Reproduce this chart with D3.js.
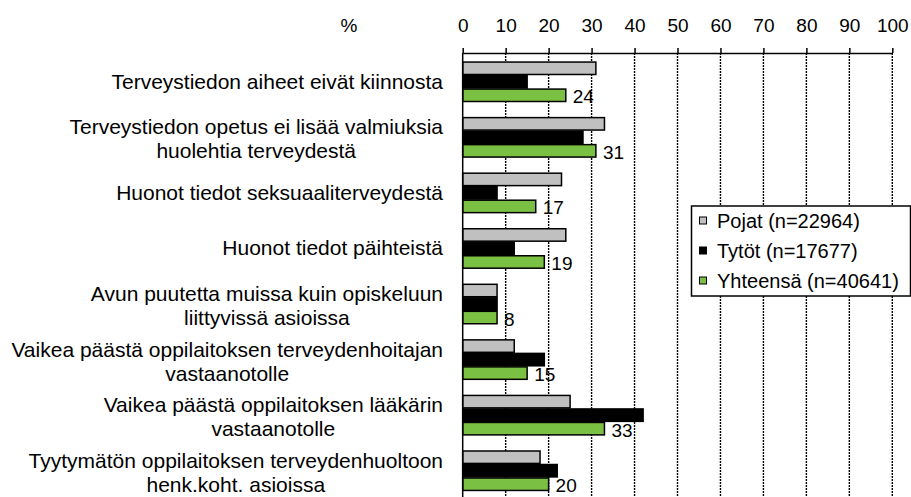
<!DOCTYPE html>
<html>
<head>
<meta charset="utf-8">
<style> body { margin: 0; background: #fff; } text { font-family: "Liberation Sans", Arial, sans-serif; } </style>
<script src="https://d3js.org/d3.v7.min.js"></script>
</head>
<body>
<svg id="chart" width="911" height="497"></svg>
<script>
    // categories, top to bottom ("\n" = line break in the label)
    var categories = [
        "Terveystiedon aiheet eivät kiinnosta",
        "Terveystiedon opetus ei lisää valmiuksia\nhuolehtia terveydestä",
        "Huonot tiedot seksuaaliterveydestä",
        "Huonot tiedot päihteistä",
        "Avun puutetta muissa kuin opiskeluun\nliittyvissä asioissa",
        "Vaikea päästä oppilaitoksen terveydenhoitajan\nvastaanotolle",
        "Vaikea päästä oppilaitoksen lääkärin\nvastaanotolle",
        "Tyytymätön oppilaitoksen terveydenhuoltoon\nhenk.koht. asioissa"
    ]
    var pojat    = [31, 33, 23, 24, 8, 12, 25, 18]
    var tytot    = [15, 28,  8, 12, 8, 19, 42, 22]
    var yhteensa = [24, 31, 17, 19, 8, 15, 33, 20]

    var seriesNames  = ["Pojat (n=22964)", "Tytöt (n=17677)", "Yhteensä (n=40641)"]
    var seriesColors = ["#c0c0c0", "#000000", "#7ac143"]
    var xTickValues  = [0, 10, 20, 30, 40, 50, 60, 70, 80, 90, 100]

    var series = [pojat, tytot, yhteensa]
    var fontSize = 19
    var labelSize = 21
    var legendSize = 20

    const svg = d3.select('#chart')

    let x = d3.scaleLinear().domain([0, 100]).range([462.7, 892.3])
    let y = d3.scaleBand()
        .domain(d3.range(categories.length))
        .range([54, 498.5])
        .paddingInner(0.29)
        .paddingOuter(0.145)
    let ySub = d3.scaleBand()
        .domain(d3.range(series.length))
        .range([0, y.bandwidth()])
        .paddingInner(0.08)

    const axisY = 53
    const bottom = 497

    // dotted gridlines
    svg.append("g")
        .selectAll("line")
        .data(xTickValues.slice(1))
        .join("line")
            .attr("x1", d => x(d)).attr("x2", d => x(d))
            .attr("y1", axisY).attr("y2", bottom)
            .attr("stroke", "#000")
            .attr("stroke-width", 1.4)
            .attr("stroke-dasharray", "2,1")

    // top axis
    var axis = svg.append("g")
        .attr("transform", `translate(0,${axisY})`)
        .call(d3.axisTop(x).tickValues(xTickValues).tickSize(5).tickSizeOuter(0).tickPadding(16))

    axis.selectAll("text")
        .style("fill", "#000")
        .style("font-size", fontSize + "px")
        .style("font-family", '"Liberation Sans", Arial, sans-serif')
    axis.selectAll("line").style("stroke", "#000").style("stroke-width", 1.5)
    axis.select(".domain").style("stroke", "#000").style("stroke-width", 1.5)

    svg.append("text")
        .attr("x", 349).attr("y", 31.5)
        .attr("text-anchor", "middle")
        .style("font-size", fontSize + "px")
        .text("%")

    // bars
    series.forEach(function(vals, s) {
        svg.append("g")
            .selectAll("rect")
            .data(vals)
            .join("rect")
                .attr("x", x(0))
                .attr("y", (d, i) => y(i) + ySub(s))
                .attr("width", d => x(d) - x(0))
                .attr("height", ySub.bandwidth())
                .attr("fill", seriesColors[s])
                .attr("stroke", "#000")
                .attr("stroke-width", 1.5)
    })

    // left axis line
    svg.append("line")
        .attr("x1", x(0)).attr("x2", x(0))
        .attr("y1", axisY).attr("y2", bottom)
        .attr("stroke", "#000").attr("stroke-width", 1.5)

    // value labels for total
    svg.append("g")
        .selectAll("text")
        .data(yhteensa)
        .join("text")
            .attr("x", d => x(d) + 7)
            .attr("y", (d, i) => y(i) + ySub(2) + ySub.bandwidth() / 2 + 8)
            .style("font-size", fontSize + "px")
            .text(d => d)

    // category labels: block right-aligned, lines centred within block
    categories.forEach(function(label, i) {
        var lines = label.split("\n")
        var lh = 24
        var cy = y(i) + y.bandwidth() / 2 + (lines.length > 1 ? 2 : 0)
        var g = svg.append("g")
        var texts = g.selectAll("text")
            .data(lines)
            .join("text")
                .attr("text-anchor", "middle")
                .attr("y", (d, j) => cy + (j - (lines.length - 1) / 2) * lh + 7)
                .style("font-size", labelSize + "px")
                .text(d => d)
        var maxW = d3.max(texts.nodes(), n => n.getComputedTextLength())
        texts.attr("x", 443 - maxW / 2)
    })

    // legend
    var legend = svg.append("g")
    legend.append("rect")
        .attr("x", 691.5).attr("y", 206)
        .attr("width", 219).attr("height", 90)
        .attr("fill", "#fff")
        .attr("stroke", "#000").attr("stroke-width", 1.5)
    seriesNames.forEach(function(name, s) {
        var cy = 221 + s * 30
        legend.append("rect")
            .attr("x", 699.5).attr("y", cy - 4)
            .attr("width", 7).attr("height", 7)
            .attr("fill", seriesColors[s])
            .attr("stroke", "#000").attr("stroke-width", 1)
        legend.append("text")
            .attr("x", 717).attr("y", cy + 7)
            .style("font-size", legendSize + "px")
            .text(name)
    })
</script>
</body>
</html>
